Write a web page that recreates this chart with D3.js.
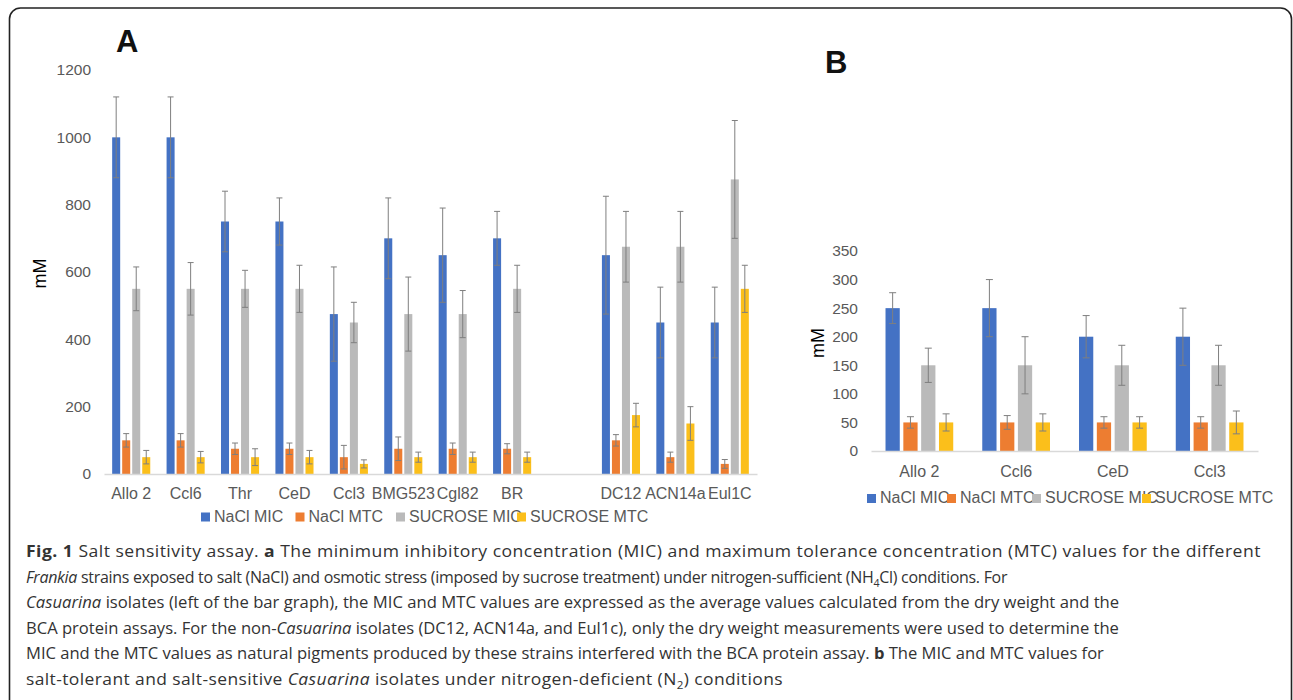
<!DOCTYPE html>
<html><head><meta charset="utf-8">
<script src="https://cdn.jsdelivr.net/npm/d3@7"></script>
<style>body{margin:0;background:#fff} svg{display:block}</style>
</head><body>
<svg id="c" width="1293" height="700"></svg>
<script>
// ---------- DATA ----------
const seriesNames = ["NaCl MIC", "NaCl MTC", "SUCROSE MIC", "SUCROSE MTC"];
const seriesColors = ["#4472C4", "#ED7D31", "#BABABA", "#FBBF1B"];

// Panel A (nitrogen-sufficient)
const categoriesA = ["Allo 2", "Ccl6", "Thr", "CeD", "Ccl3", "BMG523", "Cgl82", "BR", "", "DC12", "ACN14a", "Eul1C"];
const naclMicA    = [1000, 1000, 750, 750, 475, 700, 650, 700, null, 650, 450, 450];
const naclMicErrA = [120, 120, 90, 70, 140, 120, 140, 80, null, 175, 105, 105];
const naclMtcA    = [100, 100, 75, 75, 50, 75, 75, 75, null, 100, 50, 30];
const naclMtcErrA = [20, 20, 17, 17, 35, 35, 17, 15, null, 17, 15, 13];
const sucMicA     = [550, 550, 550, 550, 450, 475, 475, 550, null, 675, 675, 875];
const sucMicErrA  = [65, 78, 55, 70, 60, 110, 70, 70, null, 105, 105, 175];
const sucMtcA     = [50, 50, 50, 50, 30, 50, 50, 50, null, 175, 150, 550];
const sucMtcErrA  = [20, 17, 25, 20, 12, 15, 15, 15, null, 35, 50, 70];
const ticksA = [0, 200, 400, 600, 800, 1000, 1200];

// Panel B (nitrogen-deficient)
const categoriesB = ["Allo 2", "Ccl6", "CeD", "Ccl3"];
const naclMicB    = [250, 250, 200, 200];
const naclMicErrB = [27, 50, 37, 50];
const naclMtcB    = [50, 50, 50, 50];
const naclMtcErrB = [10, 12, 10, 10];
const sucMicB     = [150, 150, 150, 150];
const sucMicErrB  = [30, 50, 35, 35];
const sucMtcB     = [50, 50, 50, 50];
const sucMtcErrB  = [15, 15, 10, 20];
const ticksB = [0, 50, 100, 150, 200, 250, 300, 350];

// ---------- DRAW ----------
const svg = d3.select("#c");
svg.append("rect").attr("width", 1293).attr("height", 700).attr("fill", "#fff");
svg.append("rect").attr("x", 9.5).attr("y", 8).attr("width", 1282).attr("height", 760)
  .attr("rx", 11).attr("fill", "none").attr("stroke", "#222").attr("stroke-width", 1.6);

const FONT = "'Liberation Sans', Arial, Helvetica, sans-serif";
const TXT = "#595959";

function drawPanel(cfg) {
  const g = svg.append("g");
  const x0 = d3.scaleBand().domain(cfg.categories).range(cfg.xRange).padding(0);
  const bw = x0.bandwidth();
  const grp = bw * 0.7;
  const x1 = d3.scaleBand().domain(seriesNames).range([(bw - grp) / 2, (bw + grp) / 2])
    .paddingInner(0.2).paddingOuter(0);
  const y = d3.scaleLinear().domain(cfg.yDomain).range(cfg.yRange);

  const ya = g.append("g").attr("transform", `translate(${cfg.xRange[0]},0)`)
    .call(d3.axisLeft(y).tickValues(cfg.ticks).tickSize(0).tickPadding(cfg.yPad).tickFormat(d3.format("d")));
  ya.select(".domain").remove();
  ya.selectAll("text").attr("fill", TXT).style("font-family", FONT).style("font-size", cfg.tickFont + "px");

  cfg.values.forEach((vals, si) => {
    const name = seriesNames[si];
    g.append("g").selectAll("rect")
      .data(cfg.categories.map((c, i) => ({ c, v: vals[i] })).filter(d => d.v != null))
      .join("rect")
      .attr("x", d => x0(d.c) + x1(name))
      .attr("y", d => y(d.v))
      .attr("width", x1.bandwidth())
      .attr("height", d => y(0) - y(d.v))
      .attr("fill", seriesColors[si]);
  });

  const xa = g.append("g").attr("transform", `translate(0,${y(0)})`)
    .call(d3.axisBottom(x0).tickSize(0).tickSizeOuter(0).tickPadding(cfg.xPad));
  xa.select(".domain").attr("stroke", "#D9D9D9").attr("stroke-width", 1.5);
  xa.selectAll("text").attr("fill", TXT).style("font-family", FONT).style("font-size", cfg.labelFont + "px");

  const cap = cfg.cap;
  cfg.values.forEach((vals, si) => {
    const name = seriesNames[si];
    const errs = cfg.errors[si];
    const eg = g.append("g").attr("stroke", "#7F7F7F").attr("stroke-width", 1).attr("fill", "none");
    cfg.categories.forEach((c, i) => {
      const v = vals[i], e = errs[i];
      if (v == null || e == null) return;
      const cx = x0(c) + x1(name) + x1.bandwidth() / 2;
      const yt = y(v + e), yb = y(v - e);
      eg.append("line").attr("x1", cx).attr("x2", cx).attr("y1", yt).attr("y2", yb);
      eg.append("line").attr("x1", cx - cap / 2).attr("x2", cx + cap / 2).attr("y1", yt).attr("y2", yt);
      eg.append("line").attr("x1", cx - cap / 2).attr("x2", cx + cap / 2).attr("y1", yb).attr("y2", yb);
    });
  });

  g.append("text").attr("transform", `translate(${cfg.mM[0]},${cfg.mM[1]}) rotate(-90)`)
    .attr("text-anchor", "middle").attr("fill", "#000")
    .style("font-family", FONT).style("font-size", "18px").text("mM");

  g.append("text").attr("x", cfg.letterPos[0]).attr("y", cfg.letterPos[1])
    .attr("fill", "#111").style("font-family", FONT).style("font-weight", "bold").style("font-size", "31px")
    .text(cfg.letter);

  // legend: fixed slots (entries overlap, as in the original)
  const ly = cfg.legend.y;
  seriesNames.forEach((n, si) => {
    const lx = cfg.legend.xs[si];
    g.append("text").attr("x", lx + 13).attr("y", ly).attr("fill", TXT)
      .style("font-family", FONT).style("font-size", cfg.legendFont + "px").text(n);
  });
  seriesNames.forEach((n, si) => {
    const lx = cfg.legend.xs[si];
    g.append("rect").attr("x", lx).attr("y", ly - 9).attr("width", 9).attr("height", 9).attr("fill", seriesColors[si]);
  });
}

drawPanel({
  categories: categoriesA,
  values: [naclMicA, naclMtcA, sucMicA, sucMtcA],
  errors: [naclMicErrA, naclMtcErrA, sucMicErrA, sucMtcErrA],
  yDomain: [0, 1200], yRange: [474, 70], ticks: ticksA,
  xRange: [104, 757], yPad: 13, xPad: 14,
  tickFont: 15.5, labelFont: 16, legendFont: 16, cap: 6,
  mM: [46, 273.5], letter: "A", letterPos: [116, 51.7],
  legend: { xs: [201, 295.5, 396, 517], y: 521.5 }
});

drawPanel({
  categories: categoriesB,
  values: [naclMicB, naclMtcB, sucMicB, sucMtcB],
  errors: [naclMicErrB, naclMtcErrB, sucMicErrB, sucMtcErrB],
  yDomain: [0, 350], yRange: [451, 251], ticks: ticksB,
  xRange: [871, 1258], yPad: 13, xPad: 14.5,
  tickFont: 15.5, labelFont: 16, legendFont: 16, cap: 7,
  mM: [823.5, 343], letter: "B", letterPos: [825, 72.7],
  legend: { xs: [867, 947, 1032, 1142], y: 503 }
});

// ---------- CAPTION ----------
const captionLines = [
  [["b", "Fig. 1"], ["n", " Salt sensitivity assay. "], ["b", "a"], ["n", " The minimum inhibitory concentration (MIC) and maximum tolerance concentration (MTC) values for the different"]],
  [["i", "Frankia"], ["n", " strains exposed to salt (NaCl) and osmotic stress (imposed by sucrose treatment) under nitrogen-sufficient (NH"], ["s", "4"], ["n", "Cl) conditions. For"]],
  [["i", "Casuarina"], ["n", " isolates (left of the bar graph), the MIC and MTC values are expressed as the average values calculated from the dry weight and the"]],
  [["n", "BCA protein assays. For the non-"], ["i", "Casuarina"], ["n", " isolates (DC12, ACN14a, and Eul1c), only the dry weight measurements were used to determine the"]],
  [["n", "MIC and the MTC values as natural pigments produced by these strains interfered with the BCA protein assay. "], ["b", "b"], ["n", " The MIC and MTC values for"]],
  [["n", "salt-tolerant and salt-sensitive "], ["i", "Casuarina"], ["n", " isolates under nitrogen-deficient (N"], ["s", "2"], ["n", ") conditions"]]
];
const captionEnds = [1262, 1008, 1120, 1120, 1105, 784];
const capX = 26, capY0 = 557, capDy = 25.5;
const capTexts = captionLines.map((parts, li) => {
  const t = svg.append("text").attr("x", 0).attr("y", 0).attr("fill", "#333")
    .style("font-family", "'Open Sans', 'Noto Sans', sans-serif").style("font-size", "16.5px");
  parts.forEach(([k, s], i) => {
    const sp = t.append("tspan").text(s);
    if (k === "b") sp.style("font-weight", "bold");
    if (k === "i") sp.style("font-style", "italic");
    if (k === "s") sp.style("font-size", "11px").attr("dy", 4);
    if (i > 0 && parts[i - 1][0] === "s") sp.attr("dy", -4);
  });
  return t;
});
const widths = capTexts.map(t => t.node().getBBox().width);
const kUni = d3.mean([2, 3, 4].map(i => (captionEnds[i] - capX) / widths[i]));
capTexts.forEach((t, li) => {
  const target = captionEnds[li] - capX;
  const f = target / (kUni * widths[li]);
  const kLine = kUni * Math.sqrt(f);              // half of the fit by glyph scaling
  const nChars = captionLines[li].reduce((a, p) => a + p[1].length, 0);
  const ls = (target / kLine - widths[li]) / nChars; // the rest by letter spacing
  t.style("letter-spacing", ls + "px")
   .attr("transform", `translate(${capX},${capY0 + li * capDy}) scale(${kLine},1)`);
});
</script>
</body></html>
